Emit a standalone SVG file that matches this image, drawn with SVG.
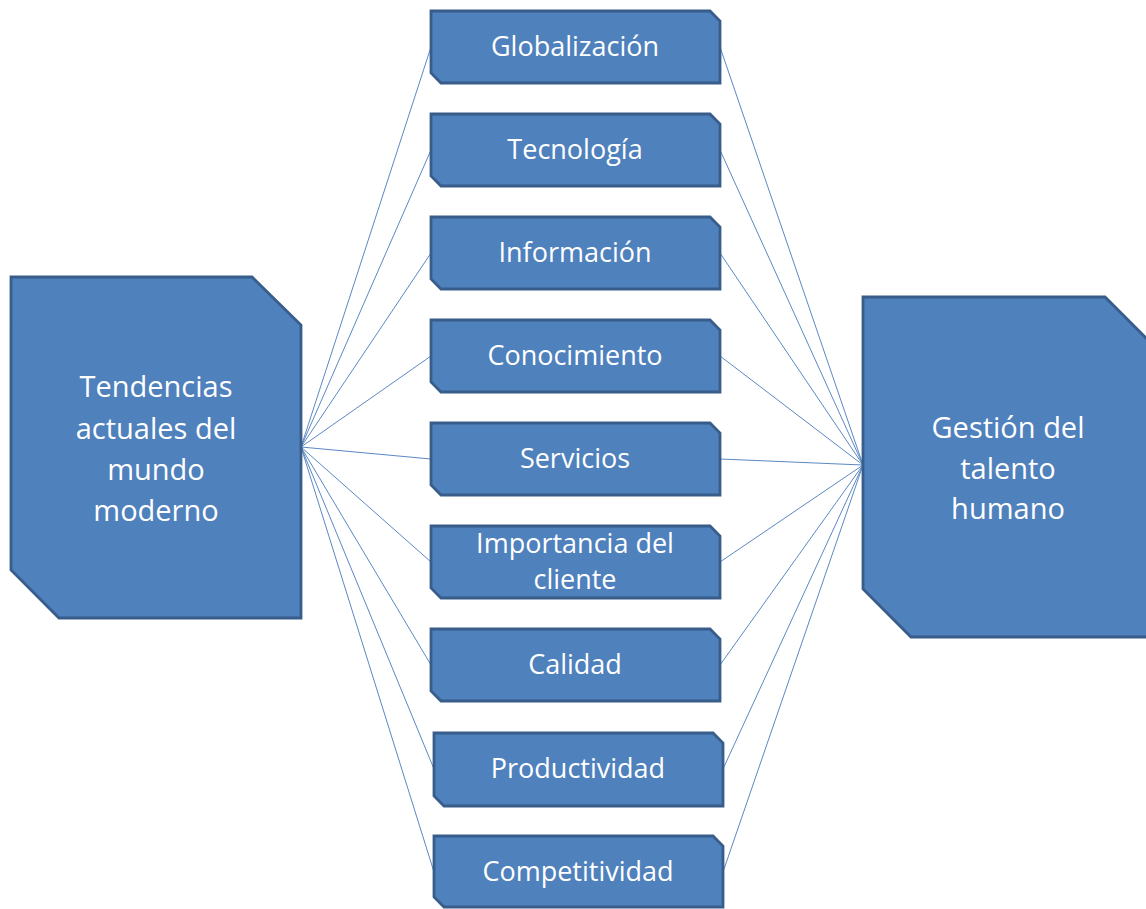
<svg xmlns="http://www.w3.org/2000/svg" width="1146" height="909" viewBox="0 0 1146 909">
  <style>
    .shape { fill: #4f81bd; stroke: #385d8a; stroke-width: 2.8; stroke-linejoin: miter; }
    .label { font-family: "Open Sans", "Liberation Sans", sans-serif; fill: #ffffff; text-anchor: middle; }
    .small { font-size: 27px; }
    .big { font-size: 29px; }
    .link { stroke: #5b88c2; stroke-width: 1; fill: none; }
  </style>
  <rect width="1146" height="909" fill="#ffffff"/>

  <!-- connectors: left hub to each trend, each trend to right hub -->
  <g id="connectors">
    <line class="link" x1="301" y1="447" x2="431" y2="47"/>
    <line class="link" x1="301" y1="447" x2="431" y2="150"/>
    <line class="link" x1="301" y1="447" x2="431" y2="253"/>
    <line class="link" x1="301" y1="447" x2="431" y2="356"/>
    <line class="link" x1="301" y1="447" x2="431" y2="459"/>
    <line class="link" x1="301" y1="447" x2="431" y2="562"/>
    <line class="link" x1="301" y1="447" x2="431" y2="665"/>
    <line class="link" x1="301" y1="447" x2="434" y2="769"/>
    <line class="link" x1="301" y1="447" x2="434" y2="872"/>

    <line class="link" x1="720" y1="47" x2="863" y2="465"/>
    <line class="link" x1="720" y1="150" x2="863" y2="465"/>
    <line class="link" x1="720" y1="253" x2="863" y2="465"/>
    <line class="link" x1="720" y1="356" x2="863" y2="465"/>
    <line class="link" x1="720" y1="459" x2="863" y2="465"/>
    <line class="link" x1="720" y1="562" x2="863" y2="465"/>
    <line class="link" x1="720" y1="665" x2="863" y2="465"/>
    <line class="link" x1="723" y1="769" x2="863" y2="465"/>
    <line class="link" x1="723" y1="872" x2="863" y2="465"/>
  </g>

  <!-- left hub -->
  <g id="tendencias">
    <path class="shape" d="M11,277 H252 L301,325 V618 H59 L11,570 Z"/>
    <text class="label big" x="156" y="397">Tendencias</text>
    <text class="label big" x="156" y="439">actuales del</text>
    <text class="label big" x="156" y="480">mundo</text>
    <text class="label big" x="156" y="521">moderno</text>
  </g>

  <!-- right hub -->
  <g id="gestion">
    <path class="shape" d="M863,297 H1105 L1154,346 V637 H911 L863,589 Z"/>
    <text class="label big" x="1008" y="438">Gestión del</text>
    <text class="label big" x="1008" y="479">talento</text>
    <text class="label big" x="1008" y="519">humano</text>
  </g>

  <!-- trend boxes -->
  <g id="globalizacion">
    <path class="shape" d="M431,11 H710 L720,21 V83 H441 L431,73 Z"/>
    <text class="label small" x="575" y="56">Globalización</text>
  </g>
  <g id="tecnologia">
    <path class="shape" d="M431,114 H710 L720,124 V186 H441 L431,176 Z"/>
    <text class="label small" x="575" y="159">Tecnología</text>
  </g>
  <g id="informacion">
    <path class="shape" d="M431,217 H710 L720,227 V289 H441 L431,279 Z"/>
    <text class="label small" x="575" y="262">Información</text>
  </g>
  <g id="conocimiento">
    <path class="shape" d="M431,320 H710 L720,330 V392 H441 L431,382 Z"/>
    <text class="label small" x="575" y="365">Conocimiento</text>
  </g>
  <g id="servicios">
    <path class="shape" d="M431,423 H710 L720,433 V495 H441 L431,485 Z"/>
    <text class="label small" x="575" y="468">Servicios</text>
  </g>
  <g id="importancia">
    <path class="shape" d="M431,526 H710 L720,536 V598 H441 L431,588 Z"/>
    <text class="label small" x="575" y="553">Importancia del</text>
    <text class="label small" x="575" y="589">cliente</text>
  </g>
  <g id="calidad">
    <path class="shape" d="M431,629 H710 L720,639 V701 H441 L431,691 Z"/>
    <text class="label small" x="575" y="674">Calidad</text>
  </g>
  <g id="productividad">
    <path class="shape" d="M434,733 H713 L723,743 V806 H444 L434,796 Z"/>
    <text class="label small" x="578" y="778">Productividad</text>
  </g>
  <g id="competitividad">
    <path class="shape" d="M434,836 H713 L723,846 V907 H444 L434,897 Z"/>
    <text class="label small" x="578" y="881">Competitividad</text>
  </g>
</svg>
